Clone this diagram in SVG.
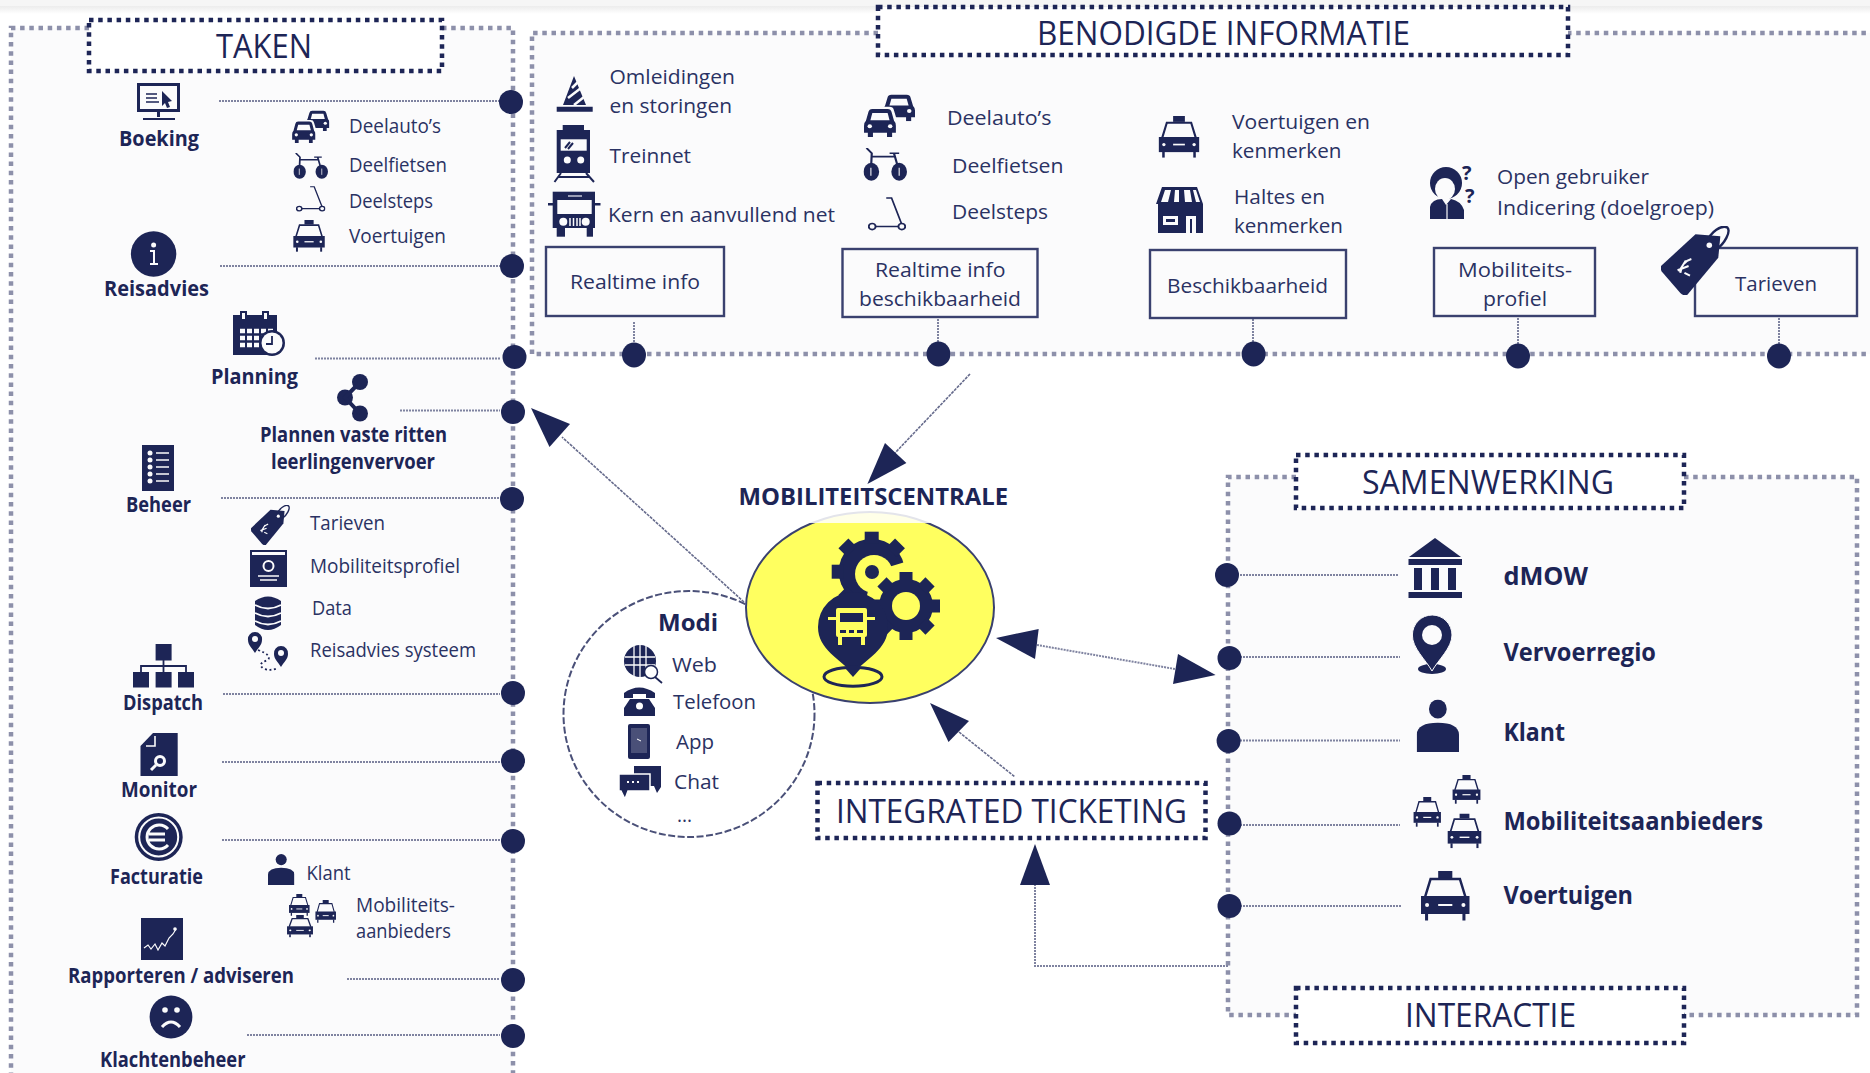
<svg xmlns="http://www.w3.org/2000/svg" width="1870" height="1073" viewBox="0 0 1870 1073">
<style>
text{font-family:"Open Sans","Noto Sans",sans-serif;fill:#2a3263}
.t{font-size:20px}
.b{font-size:21px;font-weight:700;fill:#1d2556}
.h{font-size:32px;fill:#1d2556}
use{fill:#1d2556}
.n{fill:#1d2556}
.w{fill:#fbfbfc}
.y{fill:#ffff5f}
.sn{fill:none;stroke:#1d2556}
.sw{fill:none;stroke:#fbfbfc}
.sy{fill:none;stroke:#ffff5f}
.panel{fill:#fbfbfc;stroke:none}
.rail{fill:none;stroke:#8d90aa;stroke-width:4.5;stroke-dasharray:4.5 4.7}
.tb{fill:#fff;stroke:#1d2556;stroke-width:4.5;stroke-dasharray:4.5 4.7}
.link{fill:none;stroke:#7f83a0;stroke-width:2;stroke-dasharray:2 1}
.arrow{fill:none;stroke:#666b8c;stroke-width:1.6;stroke-dasharray:3 1}
.box{fill:none;stroke:#3a416f;stroke-width:2.4}
</style>
<defs>
<linearGradient id="sh" x1="0" y1="0" x2="0" y2="1"><stop offset="0" stop-color="#ececec"/><stop offset="1" stop-color="#fff"/></linearGradient>
<symbol id="taxi" viewBox="0 0 100 100" preserveAspectRatio="none">
<rect x="36" y="0" width="28" height="14"/>
<path d="M10 52 L21 16 H79 L90 52" fill="none" stroke="#1d2556" stroke-width="5"/>
<rect x="2" y="50" width="96" height="36"/>
<rect x="10" y="85" width="6" height="14"/><rect x="84" y="85" width="6" height="14"/>
<circle class="w" cx="14" cy="68" r="4"/><circle class="w" cx="86" cy="68" r="4"/><rect class="w" x="36" y="66" width="28" height="4"/>
</symbol>
<symbol id="car1" viewBox="0 0 100 100" preserveAspectRatio="none">
<path d="M6 46 L14 16 Q16 6 26 6 H74 Q84 6 86 16 L94 46 Q100 52 100 62 V86 H88 V100 H72 V86 H28 V100 H12 V86 H0 V62 Q0 52 6 46Z"/>
<path class="w" d="M20 44 L26 20 H74 L80 44Z"/><circle class="w" cx="18" cy="64" r="7"/><circle class="w" cx="82" cy="64" r="7"/>
</symbol>
<symbol id="carbg" viewBox="0 0 100 100" preserveAspectRatio="none">
<path class="w" d="M6 46 L14 16 Q16 6 26 6 H74 Q84 6 86 16 L94 46 Q100 52 100 62 V86 H88 V100 H12 V86 H0 V62 Q0 52 6 46Z"/>
</symbol>
<symbol id="cars" viewBox="0 0 100 100" preserveAspectRatio="none">
<use href="#car1" x="38" y="0" width="62" height="64"/>
<use href="#carbg" x="-3" y="27" width="72" height="73"/>
<use href="#car1" x="1" y="32" width="62" height="68"/>
</symbol>
<symbol id="bike" viewBox="0 0 100 100" preserveAspectRatio="none">
<ellipse cx="18" cy="72" rx="18" ry="27"/><ellipse cx="82" cy="72" rx="18" ry="27"/>
<path d="M7 0 L19 16 L17 70 M19 26 H72 M70 16 L82 70 M60 16 H82" fill="none" stroke="#1d2556" stroke-width="5"/>
<path d="M17 60 V84 M82 60 V84" stroke="#fbfbfc" stroke-width="2.500" fill="none"/>
</symbol>
<symbol id="scooter" viewBox="0 0 100 100" preserveAspectRatio="none">
<circle cx="11" cy="87" r="9" fill="none" stroke="#1d2556" stroke-width="5"/><circle cx="89" cy="87" r="9" fill="none" stroke="#1d2556" stroke-width="5"/>
<path d="M20 87 H80 M48 3 H62 L88 78" fill="none" stroke="#1d2556" stroke-width="4.500"/>
</symbol>
<symbol id="tag" viewBox="0 0 100 100" preserveAspectRatio="none">
<path d="M0 58 L50 12 L86 15 L83 46 L38 100 Q33 102 28 97 L1 66 Q-1 62 0 58Z"/>
<path d="M66 24 C72 8 88 -2 96 2 C102 8 92 26 80 34" fill="none" stroke="#1d2556" stroke-width="3.500"/>
<circle class="w" cx="70" cy="28" r="4"/>
<path d="M36 50 L26 66 M40 58 L24 64 M34 68 L42 72 M44 48 Q30 52 28 68" fill="none" stroke="#fbfbfc" stroke-width="3"/>
</symbol>
<symbol id="person" viewBox="0 0 100 100" preserveAspectRatio="none">
<ellipse cx="50" cy="18" rx="21" ry="18"/><path d="M0 100 V66 Q2 44 50 44 Q98 44 100 66 V100Z"/>
</symbol>
</defs>

<rect width="1870" height="1073" fill="#fff"/>
<rect width="1870" height="6" fill="#f6f6f6"/>
<rect y="6" width="1870" height="8" fill="url(#sh)"/>
<rect class="panel" x="11" y="28" width="502" height="1045"/>
<rect class="panel" x="532" y="33" width="1338" height="321"/>
<rect class="panel" x="1228" y="477" width="629" height="538"/>

<g id="connectors">
<path class="rail" d="M89 28 H11 V1073"/>
<path class="rail" d="M442 28 H513 V1073"/>
<path class="rail" d="M878 33 H532 V354 H1870 M1567 33 H1870"/>
<path class="rail" d="M1296 477 H1228 V1015 H1296 M1684 477 H1857 V1015 H1684"/>
<path class="link" d="M219 101 H500 M220 266 H500 M315 358.500 H500 M400 410.500 H500 M221 498 H500 M223 694 H500 M222 762 H500 M222 840 H500 M347 979 H500 M247 1035 H500"/>
<path class="link" d="M634 322 V345 M938 319 V345 M1253 319 V345 M1518 318 V345 M1779 318 V345"/>
<path class="link" d="M1240 575 H1398 M1240 657 H1400 M1240 740.500 H1400 M1240 825 H1400 M1240 906 H1402"/>
<path class="arrow" d="M744 602 L562 437"/>
<path class="arrow" d="M970 374 L895 453"/>
<path class="link" d="M1037 645 L1175 669"/>
<path class="arrow" d="M959 732 L1015 777"/>
<path class="link" d="M1228 966 H1035 V880"/>
<path class="n" d="M531 408 L570 424 L549.500 447Z"/>
<path class="n" d="M867.400 484 L885 443 L906.400 463Z"/>
<path class="n" d="M996 638 L1038.700 629 L1035 659Z"/>
<path class="n" d="M1215.600 675 L1178 654 L1173 684Z"/>
<path class="n" d="M930 703 L969 721 L948.500 742Z"/>
<path class="n" d="M1035 844 L1020 885 H1050Z"/>
<g class="n">
<ellipse cx="511" cy="102" rx="12" ry="12"/><ellipse cx="512" cy="266" rx="12" ry="12"/><ellipse cx="514.500" cy="357" rx="12" ry="12"/><ellipse cx="513" cy="412" rx="12" ry="12"/><ellipse cx="512" cy="499" rx="12" ry="12"/>
<ellipse cx="513" cy="693" rx="12" ry="12"/><ellipse cx="513" cy="761" rx="12" ry="12"/><ellipse cx="513" cy="841" rx="12" ry="12"/><ellipse cx="513" cy="980" rx="12" ry="12"/><ellipse cx="513" cy="1036" rx="12" ry="12"/>
<ellipse cx="634" cy="355" rx="12" ry="12.500"/><ellipse cx="938.500" cy="354" rx="12" ry="12.500"/><ellipse cx="1253.600" cy="354" rx="12" ry="12.500"/><ellipse cx="1518" cy="356" rx="12" ry="12.500"/><ellipse cx="1779" cy="356" rx="12" ry="12.500"/>
<ellipse cx="1227" cy="575" rx="12" ry="12"/><ellipse cx="1229.500" cy="658" rx="12" ry="12"/><ellipse cx="1228.600" cy="741" rx="12" ry="12"/><ellipse cx="1229.500" cy="823.500" rx="12" ry="12"/><ellipse cx="1229.500" cy="906" rx="12" ry="12"/>
</g>
</g>

<g id="taken-title"><rect class="tb" x="89" y="20" width="353" height="51"/><text class="h" x="216" y="58" textLength="96" lengthAdjust="spacingAndGlyphs">TAKEN</text></g>
<g id="info-title"><rect class="tb" x="878" y="7" width="690" height="48"/><text class="h" x="1037" y="44.500" textLength="373" lengthAdjust="spacingAndGlyphs">BENODIGDE INFORMATIE</text></g>
<g id="samenwerking-title"><rect class="tb" x="1296" y="455" width="388" height="53"/><text class="h" x="1362" y="494" textLength="252" lengthAdjust="spacingAndGlyphs">SAMENWERKING</text></g>
<g id="interactie-title"><rect class="tb" x="1296" y="988" width="388" height="55"/><text class="h" x="1405" y="1026.600" textLength="171" lengthAdjust="spacingAndGlyphs">INTERACTIE</text></g>
<g id="ticketing"><rect class="tb" x="817.500" y="783" width="388" height="55"/><text class="h" x="836" y="823" textLength="351" lengthAdjust="spacingAndGlyphs">INTEGRATED TICKETING</text></g>

<g id="boeking">
<g transform="translate(137 83)"><rect class="sn" x="1.500" y="1.500" width="40" height="26" stroke-width="3"/><path class="sn" stroke-width="1.600" d="M9 11 H20 M9 15 H20 M9 19 H22"/><path class="n" d="M25 8 L35 18 L31 19 L33 24 L30 25 L28 20 L25 23Z"/><rect class="n" x="20" y="29" width="3" height="5"/><rect class="n" x="6" y="35" width="32" height="2"/></g>
<text class="b" x="119" y="146" textLength="80" lengthAdjust="spacingAndGlyphs">Boeking</text>
<use href="#cars" x="291.700" y="109.500" width="37.800" height="33.500"/><text class="t" x="349" y="132.600" textLength="92" lengthAdjust="spacingAndGlyphs">Deelauto’s</text>
<use href="#bike" x="293.400" y="153" width="34.600" height="26"/><text class="t" x="349" y="172" textLength="98" lengthAdjust="spacingAndGlyphs">Deelfietsen</text>
<use href="#scooter" x="296" y="186" width="29.400" height="26"/><text class="t" x="349" y="208" textLength="84" lengthAdjust="spacingAndGlyphs">Deelsteps</text>
<use href="#taxi" x="292.700" y="220" width="32.700" height="32"/><text class="t" x="349" y="242.800" textLength="97" lengthAdjust="spacingAndGlyphs">Voertuigen</text>
</g>
<g id="reisadvies">
<circle class="n" cx="153.600" cy="254" r="22.700"/><circle class="w" cx="153.600" cy="245" r="2.500"/><path class="sw" stroke-width="2" d="M150 251 H154 V263 M150 264 H158"/>
<text class="b" x="104" y="296" textLength="105" lengthAdjust="spacingAndGlyphs">Reisadvies</text>
</g>
<g id="planning">
<rect class="n" x="233" y="315" width="44" height="40"/><rect class="n" x="240" y="311" width="7" height="10"/><rect class="n" x="262" y="311" width="7" height="10"/><rect class="w" x="242" y="313" width="3" height="6"/><rect class="w" x="264" y="313" width="3" height="6"/>
<path class="sw" stroke-width="4.500" stroke-dasharray="5 2" d="M240 331 H274 M240 338 H274 M240 345 H274"/>
<circle class="n" cx="272" cy="343" r="13"/><circle class="w" cx="272" cy="343" r="10.500"/><path class="sn" stroke-width="1.800" d="M272 336 V344 H266"/>
<text class="b" x="211" y="384" textLength="87" lengthAdjust="spacingAndGlyphs">Planning</text>
</g>
<g id="plannen">
<circle class="n" cx="360" cy="382" r="8"/><circle class="n" cx="345" cy="397.500" r="8"/><circle class="n" cx="360" cy="413.500" r="8"/><path class="sn" stroke-width="4" d="M360 382 L345 397.500 L360 413.500"/>
<text class="b" x="260" y="442" textLength="187" lengthAdjust="spacingAndGlyphs">Plannen vaste ritten</text>
<text class="b" x="271" y="469" textLength="164" lengthAdjust="spacingAndGlyphs">leerlingenvervoer</text>
</g>
<g id="beheer">
<rect class="n" x="142" y="445" width="32" height="46"/><circle class="w" cx="150" cy="453" r="2.500"/><circle class="w" cx="150" cy="460" r="2.500"/><circle class="w" cx="150" cy="467" r="2.500"/><circle class="w" cx="150" cy="474" r="2.500"/><circle class="w" cx="150" cy="481" r="2.500"/>
<path class="sw" stroke-width="1.500" d="M156 453 H169 M156 460 H169 M156 467 H169 M156 474 H169 M156 481 H169"/>
<text class="b" x="126" y="512" textLength="65" lengthAdjust="spacingAndGlyphs">Beheer</text>
<use href="#tag" x="251" y="505" width="39" height="40"/><text class="t" x="310" y="530" textLength="75" lengthAdjust="spacingAndGlyphs">Tarieven</text>
<rect class="n" x="250" y="550" width="37" height="37"/><rect class="w" x="252" y="552" width="33" height="3"/><circle class="sw" cx="268.500" cy="566" r="5" stroke-width="2"/><path class="sw" stroke-width="1.500" d="M258 576 H279 M260 580 H277"/>
<text class="t" x="310" y="573" textLength="150" lengthAdjust="spacingAndGlyphs">Mobiliteitsprofiel</text>
<path class="n" d="M255 601 Q268 592 281 601 V625 Q268 635 255 625Z"/><path class="sw" stroke-width="1.800" d="M255 605 Q268 612 281 605 M255 613 Q268 620 281 613 M255 621 Q268 628 281 621"/>
<text class="t" x="312" y="615" textLength="40" lengthAdjust="spacingAndGlyphs">Data</text>
<path class="n" d="M255 632 A7 7 0 0 1 262 640 C262 645 258 648 255 653 C252 648 248 645 248 640 A7 7 0 0 1 255 632Z"/><circle class="w" cx="255" cy="639" r="3"/>
<path class="n" d="M281 646 A7 7 0 0 1 288 654 C288 659 284 662 281 667 C278 662 274 659 274 654 A7 7 0 0 1 281 646Z"/><circle class="w" cx="281" cy="653" r="3"/>
<path class="sn" stroke-width="1.800" stroke-dasharray="2 2.500" d="M258 650 Q272 655 268 660 Q256 664 264 669 Q272 671 278 668"/>
<text class="t" x="310" y="657" textLength="166" lengthAdjust="spacingAndGlyphs">Reisadvies systeem</text>
</g>
<g id="dispatch">
<rect class="n" x="155.600" y="644" width="16" height="16.500"/><rect class="n" x="133" y="672" width="16" height="15.500"/><rect class="n" x="155.600" y="672" width="16" height="15.500"/><rect class="n" x="178" y="672" width="16" height="15.500"/>
<path class="sn" stroke-width="1.800" d="M163.500 660 V672 M141 672 V666 H186 V672"/>
<text class="b" x="123" y="710" textLength="80" lengthAdjust="spacingAndGlyphs">Dispatch</text>
</g>
<g id="monitor">
<path class="n" d="M153 733 H177.700 V776 H140.500 V746Z"/><path class="sw" stroke-width="1.600" d="M155 736 V746 H146"/><circle class="sw" cx="160" cy="761" r="4.500" stroke-width="3"/><path class="sw" stroke-width="3" d="M156 765 L151 770"/>
<text class="b" x="121" y="797" textLength="76" lengthAdjust="spacingAndGlyphs">Monitor</text>
</g>
<g id="facturatie">
<circle class="n" cx="158.700" cy="837" r="24"/><circle class="sw" cx="158.700" cy="837" r="19.500" stroke-width="2"/><path class="sw" stroke-width="3" d="M168 829 A12 12 0 1 0 168 845 M149 834 H165 M149 840 H165"/>
<text class="b" x="110" y="884" textLength="93" lengthAdjust="spacingAndGlyphs">Facturatie</text>
<use href="#person" x="268" y="854" width="26.400" height="31"/><text class="t" x="306.500" y="880" textLength="44" lengthAdjust="spacingAndGlyphs">Klant</text>
<use href="#taxi" x="288.600" y="894" width="21.400" height="22"/><use href="#taxi" x="315" y="900" width="21.400" height="23"/><use href="#taxi" x="286.500" y="915" width="27" height="22.600"/>
<text class="t" x="356" y="911.600" textLength="99" lengthAdjust="spacingAndGlyphs">Mobiliteits-</text>
<text class="t" x="356" y="937.500" textLength="95" lengthAdjust="spacingAndGlyphs">aanbieders</text>
</g>
<g id="rapporteren">
<rect class="n" x="141" y="918" width="42" height="42"/><path class="sw" stroke-width="1.200" d="M144 948 L148 945 L151 949 L155 944 L158 950 L162 943 L165 946 L169 938 L173 934 L176 929"/><circle class="w" cx="175" cy="929" r="1.800"/>
<text class="b" x="68" y="983" textLength="226" lengthAdjust="spacingAndGlyphs">Rapporteren / adviseren</text>
</g>
<g id="klachtenbeheer">
<circle class="n" cx="171" cy="1017" r="21.400"/><circle class="w" cx="165" cy="1010" r="2.800"/><circle class="w" cx="177" cy="1010" r="2.800"/><path class="sw" stroke-width="3" d="M162 1027 Q171 1017 180 1027"/>
<text class="b" x="100" y="1067" textLength="145.500" lengthAdjust="spacingAndGlyphs">Klachtenbeheer</text>
</g>

<g id="realtime-info">
<path class="n" d="M556.700 106.700 H592.700 V111.700 H556.700Z M574 76 L563 105 H586Z"/><path class="sw" stroke-width="2.500" d="M572 88 L578 82 M568 98 L581 88 M574 105 L584 97"/>
<text class="t" x="609.500" y="83.500" textLength="125.500" lengthAdjust="spacingAndGlyphs">Omleidingen</text>
<text class="t" x="609.500" y="112.700" textLength="122.500" lengthAdjust="spacingAndGlyphs">en storingen</text>
<rect class="n" x="562.700" y="125" width="21.300" height="5"/><rect class="n" x="556.700" y="130" width="33.300" height="43"/><rect class="w" x="560.700" y="139.300" width="26" height="11.400"/><path class="sn" stroke-width="2" d="M565 148 L570 142 M568 149 L573 143"/><circle class="w" cx="567.300" cy="160" r="3.500"/><circle class="w" cx="580.700" cy="160" r="3.500"/><path class="sn" stroke-width="2" d="M561 173 L554.500 182 M586 173 L594 182 M558 177 H590"/>
<text class="t" x="609.500" y="162.700" textLength="81.500" lengthAdjust="spacingAndGlyphs">Treinnet</text>
<rect class="n" x="552.700" y="191.700" width="42.300" height="36.300"/><rect class="n" x="556.700" y="228" width="8.300" height="8.700"/><rect class="n" x="586.700" y="228" width="6.300" height="8.700"/><rect class="w" x="557.300" y="200" width="34.400" height="14"/><rect x="568" y="195" width="14" height="2" fill="#9a9db5"/><rect class="n" x="548" y="203" width="5" height="2.500"/><rect class="n" x="595" y="203" width="5.500" height="2.500"/><circle class="w" cx="563.300" cy="221.700" r="4"/><circle class="w" cx="585.700" cy="221.700" r="4"/><path class="sw" stroke-width="1.500" d="M570 218 V226 M573.500 218 V226 M577 218 V226 M580 218 V226"/>
<text class="t" x="608" y="221.700" textLength="227" lengthAdjust="spacingAndGlyphs">Kern en aanvullend net</text>
<rect class="box" x="546" y="247" width="178" height="69"/>
<text class="t" x="570" y="289.300" textLength="130" lengthAdjust="spacingAndGlyphs">Realtime info</text>
</g>
<g id="realtime-beschikbaarheid">
<use href="#cars" x="863.500" y="93" width="51.500" height="44"/><text class="t" x="947" y="125" textLength="104.400" lengthAdjust="spacingAndGlyphs">Deelauto’s</text>
<use href="#bike" x="863.500" y="148" width="43.500" height="33"/><text class="t" x="952" y="173" textLength="111.500" lengthAdjust="spacingAndGlyphs">Deelfietsen</text>
<use href="#scooter" x="868" y="197" width="38" height="34"/><text class="t" x="952" y="219" textLength="96" lengthAdjust="spacingAndGlyphs">Deelsteps</text>
<rect class="box" x="842.500" y="249" width="195" height="68"/>
<text class="t" x="875" y="277" textLength="130.400" lengthAdjust="spacingAndGlyphs">Realtime info</text>
<text class="t" x="859" y="306" textLength="162" lengthAdjust="spacingAndGlyphs">beschikbaarheid</text>
</g>
<g id="beschikbaarheid">
<use href="#taxi" x="1158" y="116" width="42" height="42"/>
<text class="t" x="1232" y="129" textLength="138" lengthAdjust="spacingAndGlyphs">Voertuigen en</text>
<text class="t" x="1232" y="158" textLength="109.400" lengthAdjust="spacingAndGlyphs">kenmerken</text>
<path class="n" d="M1162 187 H1197 L1203 204 V233 H1158 V204 L1156 204Z"/><path class="w" d="M1165 190 L1161 202 H1168 L1171 190Z M1175 190 L1174 202 H1179 L1179 190Z M1184 190 L1185 202 H1192 L1190 190Z M1193 190 L1196 202 H1200 L1196 190Z"/>
<rect class="w" x="1163" y="216" width="15" height="9"/><rect class="n" x="1166" y="219" width="9" height="3"/><rect class="w" x="1186" y="216" width="10" height="17"/><rect class="n" x="1190" y="219" width="2" height="14"/>
<text class="t" x="1234" y="204" textLength="91" lengthAdjust="spacingAndGlyphs">Haltes en</text>
<text class="t" x="1234" y="233" textLength="109" lengthAdjust="spacingAndGlyphs">kenmerken</text>
<rect class="box" x="1150" y="250" width="196" height="68"/>
<text class="t" x="1167" y="292.700" textLength="161" lengthAdjust="spacingAndGlyphs">Beschikbaarheid</text>
</g>
<g id="mobiliteitsprofiel">
<circle class="n" cx="1446" cy="183" r="16"/><ellipse class="w" cx="1445" cy="189" rx="10" ry="11"/><path class="n" d="M1430 219 V207 Q1432 199 1442 199 L1446 205 L1451 199 Q1461 201 1464 210 V219Z"/><path class="sw" stroke-width="1.200" d="M1447 204 V219"/>
<text x="1462" y="180" font-size="20" font-weight="700" style="fill:#1d2556">?</text><text x="1465" y="203" font-size="20" font-weight="700" style="fill:#1d2556">?</text>
<text class="t" x="1497" y="184" textLength="152" lengthAdjust="spacingAndGlyphs">Open gebruiker</text>
<text class="t" x="1497" y="215" textLength="217" lengthAdjust="spacingAndGlyphs">Indicering (doelgroep)</text>
<rect class="box" x="1434" y="248" width="161" height="68"/>
<text class="t" x="1458" y="277" textLength="114" lengthAdjust="spacingAndGlyphs">Mobiliteits-</text>
<text class="t" x="1483" y="306" textLength="64" lengthAdjust="spacingAndGlyphs">profiel</text>
</g>
<g id="tarieven">
<rect class="box" x="1695" y="248" width="162" height="68"/>
<use href="#tag" x="1661" y="226" width="69" height="69"/>
<text class="t" x="1735" y="291" textLength="82" lengthAdjust="spacingAndGlyphs">Tarieven</text>
</g>

<g id="modi">
<ellipse cx="689" cy="714" rx="125.500" ry="123" fill="#fff" stroke="#4a5078" stroke-width="2" stroke-dasharray="7 2.500"/>
<text x="658" y="630.700" font-size="24" font-weight="700" style="fill:#1d2556" textLength="60" lengthAdjust="spacingAndGlyphs">Modi</text>
<ellipse cx="640" cy="661" rx="16" ry="16" class="n"/><path class="sw" stroke-width="1.300" d="M625 657 H655 M625 665 H655 M634 646 V676 M640 645 V677 M646 646 V676"/><circle cx="651" cy="672" r="6.500" fill="#fff" stroke="#1d2556" stroke-width="1.500"/><path class="sn" stroke-width="1.800" d="M655 677 L662 683"/>
<text class="t" x="672" y="671.700" textLength="45" lengthAdjust="spacingAndGlyphs">Web</text>
<path class="n" d="M624 693 Q639 682 655 693 V698 H646 V694 H633 V698 H624Z M630 699 H649 L655 708 V716 H624 V708Z"/><circle cx="639.500" cy="706" r="3.500" fill="#fff"/>
<text class="t" x="673" y="708.700" textLength="83" lengthAdjust="spacingAndGlyphs">Telefoon</text>
<rect class="n" x="628" y="724" width="22" height="35" rx="2"/><rect x="631" y="728" width="16" height="25" fill="#4a5078"/><path stroke="#fff" stroke-width="1" fill="none" d="M637 739 L641 741"/>
<text class="t" x="676" y="749" textLength="38" lengthAdjust="spacingAndGlyphs">App</text>
<path class="n" d="M634 766 H661 V787 L657 793 L654 786 H634Z"/><path d="M619 774 H650 V791 H628 L625 799 L621 791 H619Z" fill="#1d2556" stroke="#fff" stroke-width="1.500"/><path class="sw" stroke-width="2" stroke-dasharray="2 3" d="M627 782 H642"/>
<text class="t" x="674" y="789" textLength="45" lengthAdjust="spacingAndGlyphs">Chat</text>
<text class="t" x="677" y="821.700" textLength="15" lengthAdjust="spacingAndGlyphs">...</text>
</g>
<g id="mobiliteitscentrale">
<ellipse class="y" cx="870" cy="607.500" rx="124" ry="95.500" stroke="#3a416f" stroke-width="2"/>
<rect x="740" y="505" width="260" height="18" fill="#fff" opacity="0.860"/>
<g transform="translate(871.700 571.700)" class="n">
<circle r="33"/>
<rect x="-7" y="-40" width="14" height="12"/><rect x="-7" y="-40" width="14" height="12" transform="rotate(45)"/><rect x="-7" y="-40" width="14" height="12" transform="rotate(90)"/><rect x="-7" y="-40" width="14" height="12" transform="rotate(135)"/><rect x="-7" y="-40" width="14" height="12" transform="rotate(180)"/><rect x="-7" y="-40" width="14" height="12" transform="rotate(225)"/><rect x="-7" y="-40" width="14" height="12" transform="rotate(270)"/><rect x="-7" y="-40" width="14" height="12" transform="rotate(315)"/>
</g>
<circle cx="874" cy="574" r="19" class="y"/>
<path class="y" d="M872 572 L925 556 V632 H880 L866 600Z"/>
<circle cx="872" cy="572" r="7" class="n"/>
<g transform="translate(906 606)" class="n">
<circle r="27"/>
<rect x="-6.500" y="-34" width="13" height="11"/><rect x="-6.500" y="-34" width="13" height="11" transform="rotate(45)"/><rect x="-6.500" y="-34" width="13" height="11" transform="rotate(90)"/><rect x="-6.500" y="-34" width="13" height="11" transform="rotate(135)"/><rect x="-6.500" y="-34" width="13" height="11" transform="rotate(180)"/><rect x="-6.500" y="-34" width="13" height="11" transform="rotate(225)"/><rect x="-6.500" y="-34" width="13" height="11" transform="rotate(270)"/><rect x="-6.500" y="-34" width="13" height="11" transform="rotate(315)"/>
<circle r="14" class="y"/>
</g>
<path class="n" d="M818 627 A35 35 0 0 1 888 627 C888 650 866 658 853 674 C840 658 818 650 818 627Z"/>
<ellipse cx="853" cy="676.700" rx="29" ry="9.500" class="sn" stroke-width="3"/>
<path class="n" d="M845 668 H861 L853 677Z"/>
<rect class="y" x="836" y="608" width="31" height="29" rx="2"/><rect class="n" x="840" y="613" width="23" height="9"/><rect class="n" x="840" y="630" width="6" height="3"/><rect class="n" x="849" y="630" width="5" height="3"/><rect class="n" x="857" y="630" width="6" height="3"/>
<rect class="y" x="828" y="617" width="8" height="3"/><rect class="y" x="867" y="617" width="8" height="3"/><rect class="y" x="838" y="637" width="4" height="8"/><rect class="y" x="861" y="637" width="4" height="8"/>
<text class="b" x="738.600" y="505" style="font-size:24px" textLength="269.400" lengthAdjust="spacingAndGlyphs">MOBILITEITSCENTRALE</text>
</g>

<g id="dmow">
<path class="n" d="M1435 538 L1461 557 H1409Z"/><rect class="n" x="1408.500" y="559" width="53.500" height="6"/><rect class="n" x="1414" y="568" width="8" height="22"/><rect class="n" x="1431" y="568" width="8" height="22"/><rect class="n" x="1448" y="568" width="8" height="22"/><rect class="n" x="1408.500" y="592" width="53.500" height="6"/>
<text class="b" style="font-size:25px" x="1503.400" y="584.500" textLength="84.600" lengthAdjust="spacingAndGlyphs">dMOW</text>
</g>
<g id="vervoerregio">
<ellipse class="n" cx="1432" cy="669" rx="14" ry="5"/><path class="n" d="M1412.400 635 A19.800 20 0 1 1 1452 635 C1452 648 1438 660 1432 671 C1426 660 1412 648 1412.400 635Z" stroke="#fbfbfc" stroke-width="1"/><circle class="w" cx="1432" cy="635" r="10"/>
<text class="b" style="font-size:25px" x="1503.400" y="661" textLength="152.600" lengthAdjust="spacingAndGlyphs">Vervoerregio</text>
</g>
<g id="klant">
<use href="#person" x="1416.700" y="699.600" width="42.300" height="52.400"/>
<text class="b" style="font-size:25px" x="1503.400" y="741" textLength="61.600" lengthAdjust="spacingAndGlyphs">Klant</text>
</g>
<g id="mobiliteitsaanbieders">
<use href="#taxi" x="1452" y="775" width="29" height="29"/><use href="#taxi" x="1413" y="797" width="28.500" height="30"/><use href="#taxi" x="1447" y="813.500" width="35" height="35"/>
<text class="b" style="font-size:25px" x="1503.400" y="829.600" textLength="259.600" lengthAdjust="spacingAndGlyphs">Mobiliteitsaanbieders</text>
</g>
<g id="voertuigen">
<use href="#taxi" x="1420" y="871" width="50.500" height="50"/>
<text class="b" style="font-size:25px" x="1503.400" y="904" textLength="129.600" lengthAdjust="spacingAndGlyphs">Voertuigen</text>
</g>
</svg>
